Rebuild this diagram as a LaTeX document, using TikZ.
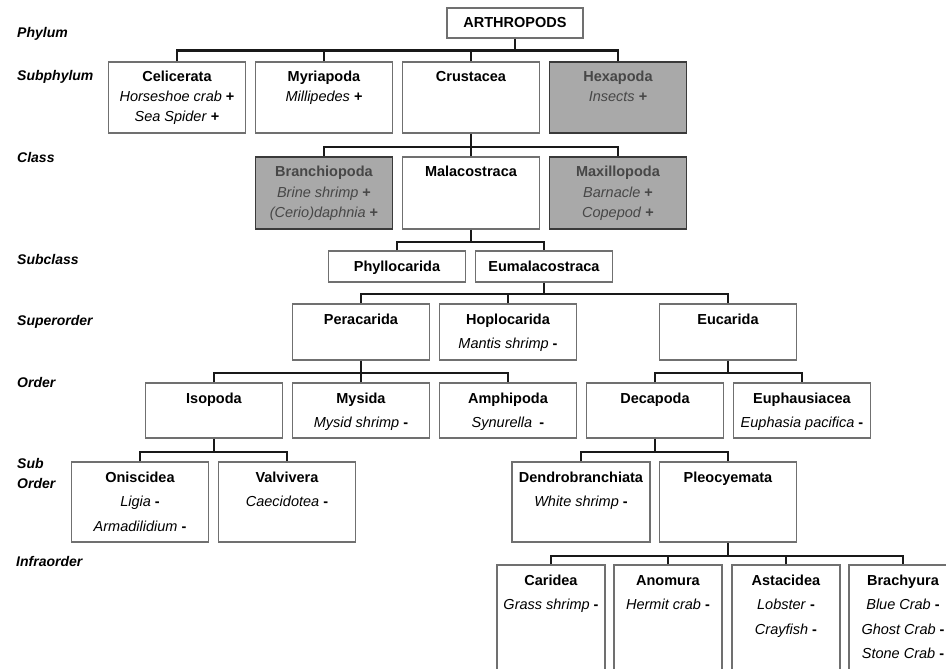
\documentclass[tikz,border=0pt]{standalone}
\usepackage{fontspec}
\setmainfont{Liberation Sans}
\definecolor{boxline}{HTML}{707070}
\definecolor{gboxline}{HTML}{3A3A3A}
\definecolor{gfill}{HTML}{A9A9A9}
\definecolor{gtext}{HTML}{474747}
\newcommand\fsz[1]{\fontsize{14.5}{#1}\selectfont}
\newcommand\cbox[1]{\begin{tabular}[t]{@{}c@{}}#1\end{tabular}}
\tikzset{
  box/.style={draw=boxline, line width=1.2pt, fill=white, inner sep=0pt},
  gbox/.style={draw=gboxline, line width=1.3pt, fill=gfill, inner sep=0pt},
  conn/.style={draw=black!90, line width=2.2pt},
  txt/.style={inner sep=0pt, anchor=base, text=black},
  gtxt/.style={inner sep=0pt, anchor=base, text=gtext},
  rowlab/.style={inner sep=0pt, anchor=base west, font=\fontsize{14}{20}\selectfont\bfseries\itshape},
  wA/.style={minimum width=137pt},
  wB/.style={minimum width=108pt},
}
\begin{document}
\begin{tikzpicture}[x=1pt,y=-1pt]
\useasboundingbox (0,0) rectangle (946,669);
\clip (0,0) rectangle (946,669);

% row labels
\node[rowlab] (l1) at (17,38) {Phylum};
\node[rowlab] (l2) at (17,81) {Subphylum};
\node[rowlab] (l3) at (17,162) {Class};
\node[rowlab] (l4) at (17,264) {Subclass};
\node[rowlab] (l5) at (17,325) {Superorder};
\node[rowlab] (l6) at (17,387) {Order};
\node[rowlab] (l7) at (17,468) {\begin{tabular}[t]{@{}l@{}}Sub\\Order\end{tabular}};
\node[rowlab] (l8) at (16,566) {Infraorder};

% phylum
\node[box, minimum width=136pt, minimum height=30pt] (art) at (515,23) {};
\node[txt] (art-t) at ([yshift=-20pt]art.north) {\fsz{20}\textbf{ARTHROPODS}};

% subphylum
\node[box, wA, minimum height=71pt] (cel) at (177,97.5) {};
\node[box, wA, minimum height=71pt] (myr) at (324,97.5) {};
\node[box, wA, minimum height=71pt] (cru) at (471,97.5) {};
\node[gbox, wA, minimum height=71pt] (hex) at (618,97.5) {};
\node[txt] (cel-t) at ([yshift=-20pt]cel.north) {\fsz{20}\cbox{\textbf{Celicerata}\\ \textit{Horseshoe crab} \textbf{+}\\ \textit{Sea Spider} \textbf{+}}};
\node[txt] (myr-t) at ([yshift=-20pt]myr.north) {\fsz{20}\cbox{\textbf{Myriapoda}\\ \textit{Millipedes} \textbf{+}}};
\node[txt] (cru-t) at ([yshift=-20pt]cru.north) {\fsz{20}\textbf{Crustacea}};
\node[gtxt] (hex-t) at ([yshift=-20pt]hex.north) {\fsz{20}\cbox{\textbf{Hexapoda}\\ \textit{Insects} \textbf{+}}};

% class
\node[gbox, wA, minimum height=72pt] (bra) at (324,193) {};
\node[box, wA, minimum height=72pt] (mal) at (471,193) {};
\node[gbox, wA, minimum height=72pt] (max) at (618,193) {};
\node[gtxt] (bra-t) at ([yshift=-20.5pt]bra.north) {\fsz{20.5}\cbox{\textbf{Branchiopoda}\\ \textit{Brine shrimp} \textbf{+}\\ \textit{(Cerio)daphnia} \textbf{+}}};
\node[txt] (mal-t) at ([yshift=-20.5pt]mal.north) {\fsz{20}\textbf{Malacostraca}};
\node[gtxt] (max-t) at ([yshift=-20.5pt]max.north) {\fsz{20.5}\cbox{\textbf{Maxillopoda}\\ \textit{Barnacle} \textbf{+}\\ \textit{Copepod} \textbf{+}}};

% subclass
\node[box, wA, minimum height=31pt] (phy) at (397,266.5) {};
\node[box, wA, minimum height=31pt] (eum) at (544,266.5) {};
\node[txt] (phy-t) at ([yshift=-21pt]phy.north) {\fsz{20}\textbf{Phyllocarida}};
\node[txt] (eum-t) at ([yshift=-21pt]eum.north) {\fsz{20}\textbf{Eumalacostraca}};

% superorder
\node[box, wA, minimum height=56pt] (per) at (361,332) {};
\node[box, wA, minimum height=56pt] (hop) at (508,332) {};
\node[box, wA, minimum height=56pt] (euc) at (728,332) {};
\node[txt] (per-t) at ([yshift=-21pt]per.north) {\fsz{24}\textbf{Peracarida}};
\node[txt] (hop-t) at ([yshift=-21pt]hop.north) {\fsz{24}\cbox{\textbf{Hoplocarida}\\ \textit{Mantis shrimp} \textbf{-}}};
\node[txt] (euc-t) at ([yshift=-21pt]euc.north) {\fsz{24}\textbf{Eucarida}};

% order
\node[box, wA, minimum height=55pt] (iso) at (214,410.5) {};
\node[box, wA, minimum height=55pt] (mys) at (361,410.5) {};
\node[box, wA, minimum height=55pt] (amp) at (508,410.5) {};
\node[box, wA, minimum height=55pt] (dec) at (655,410.5) {};
\node[box, wA, minimum height=55pt] (eup) at (802,410.5) {};
\node[txt] (iso-t) at ([yshift=-21pt]iso.north) {\fsz{24}\textbf{Isopoda}};
\node[txt] (mys-t) at ([yshift=-21pt]mys.north) {\fsz{24}\cbox{\textbf{Mysida}\\ \textit{Mysid shrimp} \textbf{-}}};
\node[txt] (amp-t) at ([yshift=-21pt]amp.north) {\fsz{24}\cbox{\textbf{Amphipoda}\\ \textit{Synurella}\enspace\textbf{-}}};
\node[txt] (dec-t) at ([yshift=-21pt]dec.north) {\fsz{24}\textbf{Decapoda}};
\node[txt] (eup-t) at ([yshift=-21pt]eup.north) {\fsz{24}\cbox{\textbf{Euphausiacea}\\ \textit{Euphasia pacifica} \textbf{-}}};

% suborder
\node[box, wA, minimum height=80pt] (oni) at (140,502) {};
\node[box, wA, minimum height=80pt] (val) at (287,502) {};
\node[box, minimum width=138pt, minimum height=80pt] (den) at (581,502) {};
\node[box, wA, minimum height=80pt] (ple) at (728,502) {};
\node[txt] (oni-t) at ([yshift=-21pt]oni.north) {\fsz{24.5}\cbox{\textbf{Oniscidea}\\ \textit{Ligia} \textbf{-}\\ \textit{Armadilidium} \textbf{-}}};
\node[txt] (val-t) at ([yshift=-21pt]val.north) {\fsz{24.5}\cbox{\textbf{Valvivera}\\ \textit{Caecidotea} \textbf{-}}};
\node[txt] (den-t) at ([yshift=-21pt]den.north) {\fsz{24.5}\cbox{\textbf{Dendrobranchiata}\\ \textit{White shrimp} \textbf{-}}};
\node[txt] (ple-t) at ([yshift=-21pt]ple.north) {\fsz{24.5}\textbf{Pleocyemata}};

% infraorder
\node[box, wB, minimum height=120pt] (car) at (551,625) {};
\node[box, wB, minimum height=120pt] (ano) at (668,625) {};
\node[box, wB, minimum height=120pt] (ast) at (786,625) {};
\node[box, wB, minimum height=120pt] (bry) at (903,625) {};
\node[txt] (car-t) at ([yshift=-21pt]car.north) {\fsz{24.5}\cbox{\textbf{Caridea}\\ \textit{Grass shrimp} \textbf{-}}};
\node[txt] (ano-t) at ([yshift=-21pt]ano.north) {\fsz{24.5}\cbox{\textbf{Anomura}\\ \textit{Hermit crab} \textbf{-}}};
\node[txt] (ast-t) at ([yshift=-21pt]ast.north) {\fsz{24.5}\cbox{\textbf{Astacidea}\\ \textit{Lobster} \textbf{-}\\ \textit{Crayfish} \textbf{-}}};
\node[txt] (bry-t) at ([yshift=-21pt]bry.north) {\fsz{24.5}\cbox{\textbf{Brachyura}\\ \textit{Blue Crab} \textbf{-}\\ \textit{Ghost Crab} \textbf{-}\\ \textit{Stone Crab} \textbf{-}}};

% connectors
\draw[conn] (art.south) -- ++(0,12) coordinate (j1);
\draw[conn] (cel.north) |- (j1) -| (hex.north);
\draw[conn] (myr.north) |- (j1);
\draw[conn] (cru.north) |- (j1);

\draw[conn] (cru.south) -- ++(0,13) coordinate (j2);
\draw[conn] (bra.north) |- (j2) -| (max.north);
\draw[conn] (mal.north) |- (j2);

\draw[conn] (mal.south) -- ++(0,12) coordinate (j3);
\draw[conn] (phy.north) |- (j3) -| (eum.north);

\draw[conn] (eum.south) -- ++(0,11) coordinate (j4);
\draw[conn] (per.north) |- (j4) -| (euc.north);
\draw[conn] (hop.north) |- (j4);

\draw[conn] (per.south) -- ++(0,12) coordinate (j5);
\draw[conn] (iso.north) |- (j5) -| (amp.north);
\draw[conn] (mys.north) |- (j5);

\draw[conn] (euc.south) -- ++(0,12) coordinate (j6);
\draw[conn] (dec.north) |- (j6) -| (eup.north);

\draw[conn] (iso.south) -- ++(0,13) coordinate (j7);
\draw[conn] (oni.north) |- (j7) -| (val.north);

\draw[conn] (dec.south) -- ++(0,13) coordinate (j8);
\draw[conn] (den.north) |- (j8) -| (ple.north);

\draw[conn] (ple.south) -- ++(0,13) coordinate (j9);
\draw[conn] (car.north) |- (j9) -| (bry.north);
\draw[conn] (ano.north) |- (j9);
\draw[conn] (ast.north) |- (j9);
\end{tikzpicture}
\end{document}
